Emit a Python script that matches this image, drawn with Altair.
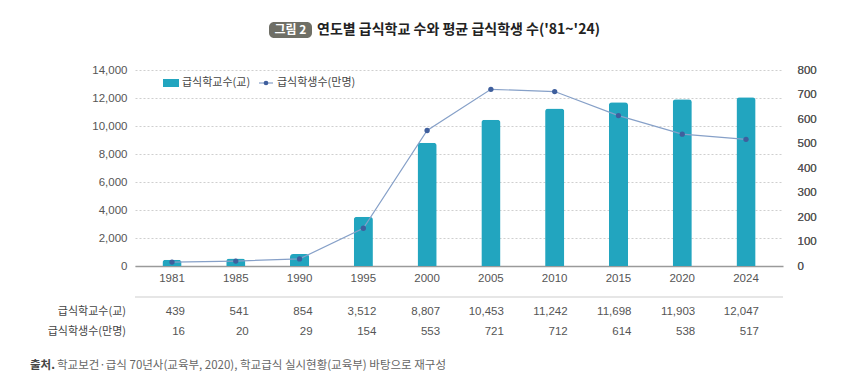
import altair as alt
import pandas as pd

years = [1981, 1985, 1990, 1995, 2000, 2005, 2010, 2015, 2020, 2024]
schools = [439, 541, 854, 3512, 8807, 10453, 11242, 11698, 11903, 12047]
students = [16, 20, 29, 154, 553, 721, 712, 614, 538, 517]

title_badge = "그림 2"
title_text = "연도별 급식학교 수와 평균 급식학생 수('81~'24)"
row_label_schools = "급식학교수(교)"
row_label_students = "급식학생수(만명)"
source_head = "출처."
source_body = "학교보건·급식 70년사(교육부, 2020), 학교급식 실시현황(교육부) 바탕으로 재구성"

left_ticks = [0, 2000, 4000, 6000, 8000, 10000, 12000, 14000]
right_ticks = [0, 100, 200, 300, 400, 500, 600, 700, 800]

FONT = "Noto Sans CJK KR"
NUMFONT = "Liberation Sans"
BAR = "#22a5bf"
LINE = "#86a0c8"
DOT = "#3f5f9d"
TXT = "#555555"

df = pd.DataFrame({"year": years, "schools": schools, "students": students})

xenc = alt.X("year:O",
             scale=alt.Scale(paddingInner=0.7, paddingOuter=0.43),
             axis=alt.Axis(title=None, labelAngle=0, ticks=False, domainColor="#9a9a9a",
                           domainWidth=1.5, labelPadding=6, labelFontSize=11.5,
                           labelColor=TXT, labelFont=NUMFONT))

base = alt.Chart(df)

bars = base.mark_bar(color=BAR, cornerRadiusTopLeft=3, cornerRadiusTopRight=3).encode(
    x=xenc,
    y=alt.Y("schools:Q", scale=alt.Scale(domain=[0, 14000]),
            axis=alt.Axis(title=None, values=left_ticks, format=",.0f", ticks=False,
                          domain=False, grid=True, gridDash=[2, 2], gridColor="#cfcfcf",
                          labelPadding=8, labelFontSize=11.5, labelColor=TXT,
                          labelFont=NUMFONT)),
)

yr = alt.Y("students:Q", scale=alt.Scale(domain=[0, 800]),
           axis=alt.Axis(title=None, orient="right", values=right_ticks, format=",.0f",
                         ticks=False, domain=False, grid=False, labelPadding=14,
                         labelFontSize=11.5, labelColor=TXT, labelFont=NUMFONT))

line = base.mark_line(color=LINE, strokeWidth=1.2).encode(x=xenc, y=yr)
pts = base.mark_circle(color=DOT, size=28, opacity=1).encode(x=xenc, y=yr)

# table values
row1 = base.mark_text(align="right", baseline="middle", dx=13, font=NUMFONT, fontSize=11.5,
                      color=TXT).encode(x=xenc, y=alt.value(242),
                                        text=alt.Text("schools:Q", format=",.0f"))
row2 = base.mark_text(align="right", baseline="middle", dx=13, font=NUMFONT, fontSize=11.5,
                      color=TXT).encode(x=xenc, y=alt.value(262),
                                        text=alt.Text("students:Q", format=",.0f"))

one = pd.DataFrame({"t": [""]})

def label(text, x, y, **kw):
    d = pd.DataFrame({"t": [text]})
    return alt.Chart(d).mark_text(baseline="middle", **kw).encode(
        x=alt.value(x), y=alt.value(y), text="t:N")

sep = alt.Chart(one).mark_rule(color="#e6e6e6", strokeWidth=2).encode(
    x=alt.value(0), x2=alt.value(648), y=alt.value(227))

rowlab1 = label(row_label_schools, -9, 242, align="right", fontSize=11, color="#444444", font=FONT)
rowlab2 = label(row_label_students, -9, 262, align="right", fontSize=11, color="#444444", font=FONT)

badge = alt.Chart(one).mark_rect(color="#6f6f66", cornerRadius=5).encode(
    x=alt.value(134), x2=alt.value(177), y=alt.value(-48), y2=alt.value(-32))
badge_t = label(title_badge, 155.5, -40, align="center", fontSize=12, fontWeight="bold",
                color="white", font=FONT)
title_t = label(title_text, 182, -40, align="left", fontSize=14, fontWeight="bold",
                color="#222222", font=FONT)

leg_sw = alt.Chart(one).mark_rect(color=BAR).encode(
    x=alt.value(28), x2=alt.value(44), y=alt.value(9), y2=alt.value(17))
leg_t1 = label(row_label_schools, 47, 13, align="left", fontSize=11, color="#444444", font=FONT)
leg_ln = alt.Chart(one).mark_rule(color=LINE, strokeWidth=1.2).encode(
    x=alt.value(124), x2=alt.value(138), y=alt.value(13))
leg_dot = alt.Chart(one).mark_circle(color=DOT, size=22, opacity=1).encode(
    x=alt.value(131), y=alt.value(13))
leg_t2 = label(row_label_students, 142, 13, align="left", fontSize=11, color="#444444", font=FONT)

src1 = label(source_head, -105, 296, align="left", fontSize=11.5, fontWeight="bold",
             color="#444444", font=FONT)
src2 = label(source_body, -78, 296, align="left", fontSize=11.5, color="#666666", font=FONT)

chart = alt.layer(
    bars, line, pts, row1, row2, sep, rowlab1, rowlab2, badge, badge_t, title_t,
    leg_sw, leg_t1, leg_ln, leg_dot, leg_t2, src1, src2
).resolve_scale(y="independent").properties(
    width=648, height=196,
    autosize=alt.AutoSizeParams(type="none"),
    padding={"left": 127, "top": 62, "right": 72, "bottom": 109},
    background="white",
).configure_view(stroke=None)

chart.save("out.html", embed_options={"renderer": "svg", "actions": False})
